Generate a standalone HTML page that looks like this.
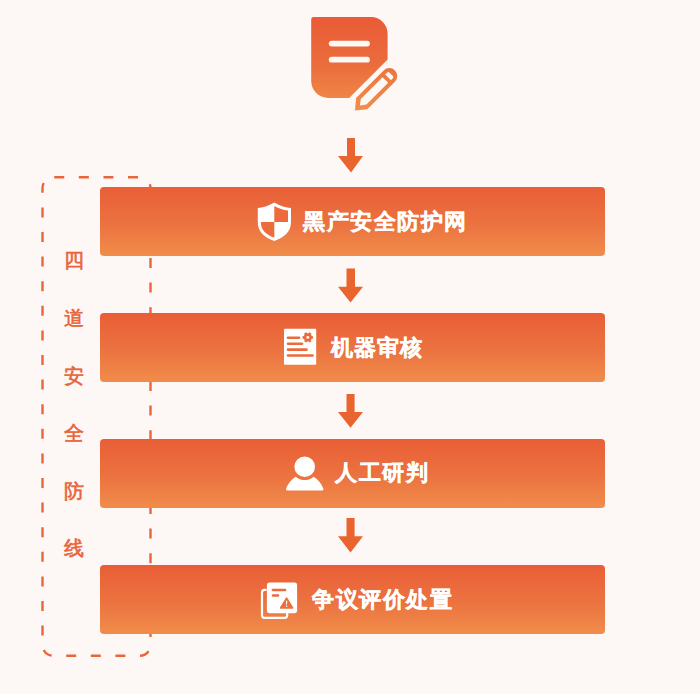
<!DOCTYPE html>
<html><head><meta charset="utf-8">
<style>
html,body{margin:0;padding:0;}
body{width:700px;height:694px;background:#fdf8f5;position:relative;overflow:hidden;font-family:"Liberation Sans",sans-serif;}
.abs{position:absolute;}
.box{position:absolute;left:100px;width:505px;height:69px;border-radius:4px;background:linear-gradient(180deg,#e95e37 0%,#ec7340 55%,#f08d4b 100%);}
.t{position:absolute;color:#fff;font-size:22px;font-weight:bold;line-height:22px;letter-spacing:1.5px;white-space:nowrap;-webkit-text-stroke:0.4px #fff;}
.side{position:absolute;left:63.5px;color:#e8643a;font-size:20px;font-weight:normal;line-height:20px;-webkit-text-stroke:0.6px #e8643a;}
</style></head><body>

<!-- top document icon -->
<svg class="abs" style="left:0;top:0" width="700" height="694" viewBox="0 0 700 694">
  <defs>
    <linearGradient id="g1" x1="0" y1="0" x2="0" y2="1">
      <stop offset="0" stop-color="#e95d36"/>
      <stop offset="1" stop-color="#ef8a48"/>
    </linearGradient>
    <linearGradient id="g3" gradientUnits="userSpaceOnUse" x1="0" y1="-60" x2="0" y2="0" gradientTransform="rotate(45)">
      <stop offset="0" stop-color="#ea6a3a"/>
      <stop offset="1" stop-color="#f08f4b"/>
    </linearGradient>
    <linearGradient id="g2" gradientUnits="userSpaceOnUse" x1="0" y1="17" x2="0" y2="111">
      <stop offset="0" stop-color="#e95b36"/>
      <stop offset="0.5" stop-color="#eb6c3c"/>
      <stop offset="1" stop-color="#f08f4b"/>
    </linearGradient>
  </defs>
  <path d="M313.5 17.1 H371.1 A16.5 16.5 0 0 1 387.6 33.6 V59.5 L349.2 97.9 H328.2 A17 17 0 0 1 311.2 80.9 V19.4 A2.3 2.3 0 0 1 313.5 17.1 Z" fill="url(#g2)"/>
  <line x1="331.7" y1="43.6" x2="367" y2="43.6" stroke="#fdf8f5" stroke-width="5.8" stroke-linecap="round"/>
  <line x1="331.7" y1="59.7" x2="367" y2="59.7" stroke="#fdf8f5" stroke-width="5.8" stroke-linecap="round"/>
  <!-- pencil -->
  <g transform="translate(355 110.4) rotate(-45)">
    <path fill="url(#g3)" fill-rule="evenodd" d="M0 0 L9.5 -8 H48.5 A8 8 0 0 1 48.5 8 H9.5 Z M7 0 L12.2 -4 H43 V4 H12.2 Z M46.8 -4 H49.5 A1.5 1.5 0 0 1 51 -2.5 V2.5 A1.5 1.5 0 0 1 49.5 4 H46.8 Z"/>
  </g>

  <!-- arrows -->
  <g fill="#e9642f">
    <path d="M347 138 H355 V156 H363 L351 172.4 L338 156 H347 Z"/>
    <path d="M346.5 268.5 H355 V286.8 H363 L350.5 302.4 L338 286.8 H346.5 Z"/>
    <path d="M346.5 394 H354.6 V412.1 H363 L350.5 427.7 L338 412.1 H346.5 Z"/>
    <path d="M346.5 518 H354.6 V536.3 H363 L350.5 552.5 L338 536.3 H346.5 Z"/>
  </g>

  <!-- dashed frame -->
  <rect x="42.5" y="177.3" width="108" height="478.5" rx="10.75" ry="10.75" fill="none" stroke="#e9663a" stroke-width="2.4" stroke-dasharray="10 14.6" stroke-dashoffset="-1"/>
</svg>

<div class="box" style="top:187px"></div>
<div class="box" style="top:313px"></div>
<div class="box" style="top:439px"></div>
<div class="box" style="top:565px"></div>

<!-- box icons -->
<svg class="abs" style="left:0;top:0" width="700" height="694" viewBox="0 0 700 694">
  <!-- shield -->
  <g>
    <path d="M274.3 202.5 C280 206 286 207.5 291 208 V222 C291 232 284 237.5 274.3 241 C264.5 237.5 257.8 232 257.8 222 V208 C262.5 207.5 268.5 206 274.3 202.5 Z" fill="#fff"/>
    <path d="M274.3 206 C279 208.5 283.5 210 288 210.6 V222 H274.3 Z" fill="#ec6a3b"/>
    <path d="M260.8 222 H274.3 V237.8 C266 234.5 260.8 230 260.8 222 Z" fill="#ec6d3c"/>
  </g>
  <!-- doc with gear -->
  <g>
    <rect x="284" y="328.8" width="32.2" height="36" rx="1" fill="#fff"/>
    <g stroke="#ec6a3b" stroke-width="2.6" stroke-linecap="round">
      <line x1="288" y1="337.8" x2="299" y2="337.8"/>
      <line x1="288" y1="343.7" x2="302" y2="343.7"/>
      <line x1="288" y1="349.6" x2="306.5" y2="349.6"/>
      <line x1="288" y1="355.5" x2="312.5" y2="355.5"/>
    </g>
    <g transform="translate(307.8 337.4)" fill="#ec6a3b"><circle r="4.2"/><rect x="-1.3" y="-5.2" width="2.6" height="3" rx="0.4" transform="rotate(30)"/><rect x="-1.3" y="-5.2" width="2.6" height="3" rx="0.4" transform="rotate(90)"/><rect x="-1.3" y="-5.2" width="2.6" height="3" rx="0.4" transform="rotate(150)"/><rect x="-1.3" y="-5.2" width="2.6" height="3" rx="0.4" transform="rotate(210)"/><rect x="-1.3" y="-5.2" width="2.6" height="3" rx="0.4" transform="rotate(270)"/><rect x="-1.3" y="-5.2" width="2.6" height="3" rx="0.4" transform="rotate(330)"/><circle r="1.45" fill="#fff"/></g>
  </g>
  <!-- user -->
  <g fill="#fff">
    <circle cx="304.7" cy="466.7" r="10.3"/>
    <path d="M287.9 490.4 H321.5 Q323.9 490.4 323.3 488.4 C321.3 483 317.6 479.2 313.6 476.7 A13.4 13.4 0 0 1 295.8 476.7 C291.8 479.2 288.1 483 286.1 488.4 Q285.5 490.4 287.9 490.4 Z"/>
  </g>
  <!-- dispute icon -->
  <g>
    <path d="M266.5 589.9 H264.6 Q262 589.9 262 592.5 V615.2 Q262 617.8 264.6 617.8 H284.6 Q287.2 617.8 287.2 615.2 V613" fill="none" stroke="#fff" stroke-width="2.2"/>
    <rect x="266.9" y="582.6" width="30.2" height="30.6" rx="2.6" fill="#fff"/>
    <g stroke="#ec6a3b" stroke-width="2.3" stroke-linecap="round">
      <line x1="272.8" y1="590" x2="285.2" y2="590"/>
      <line x1="272.8" y1="595.5" x2="278.2" y2="595.5"/>
    </g>
    <path d="M286.6 598.2 L292.6 607.9 H280.6 Z" fill="#ec6f3d" stroke="#ec6f3d" stroke-width="1.6" stroke-linejoin="round"/>
    <path d="M285.9 600.8 H287.3 L287 604.8 H286.2 Z" fill="#fff"/>
    <circle cx="286.6" cy="606.2" r="0.75" fill="#fff"/>
  </g>
</svg>

<div class="t" style="left:303px;top:211.3px">黑产安全防护网</div>
<div class="t" style="left:330.8px;top:336.6px;letter-spacing:1px">机器审核</div>
<div class="t" style="left:335.3px;top:462px">人工研判</div>
<div class="t" style="left:312.2px;top:589px">争议评价处置</div>

<div class="side" style="top:250px">四</div>
<div class="side" style="top:308.2px">道</div>
<div class="side" style="top:366px">安</div>
<div class="side" style="top:423.25px">全</div>
<div class="side" style="top:481px">防</div>
<div class="side" style="top:538.3px">线</div>

</body></html>
